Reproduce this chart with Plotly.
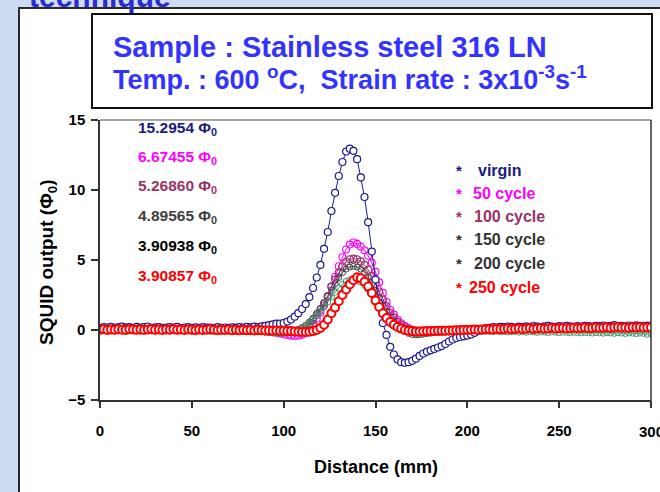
import plotly.graph_objects as go

# Scan positions along the sample (mm), one reading every 2 mm
distance_mm = list(range(0, 302, 2))

# SQUID output (flux quanta) for each fatigue state
virgin = [
    0.15, 0.2, 0.18, 0.22, 0.16, 0.2, 0.24, 0.17, 0.2, 0.15,
    0.22, 0.18, 0.2, 0.25, 0.16, 0.19, 0.21, 0.15, 0.18, 0.2,
    0.17, 0.22, 0.14, 0.18, 0.2, 0.16, 0.19, 0.15, 0.21, 0.17,
    0.18, 0.14, 0.2, 0.16, 0.18, 0.15, 0.19, 0.17, 0.2, 0.18,
    0.22, 0.19, 0.24, 0.2, 0.26,
    0.3, 0.35, 0.4, 0.45, 0.45, 0.5, 0.6, 0.75, 0.95, 1.2,
    1.5, 1.85, 2.35, 3.0, 3.75, 4.65, 5.8, 7.0, 8.5, 9.8,
    11.0, 12.0, 12.75, 12.95, 12.8, 12.2, 10.9, 9.5, 7.7, 5.6,
    3.6, 1.9, 0.5, -0.35, -1.2, -1.75, -2.1, -2.3, -2.3454, -2.3,
    -2.2, -2.05, -1.85, -1.68, -1.55, -1.45, -1.35, -1.25, -1.15, -1.0,
    -0.82, -0.68, -0.57, -0.5, -0.45, -0.4, -0.33, -0.2, -0.05, 0.05,
    0.12,
    0.15, 0.2, 0.18, 0.22, 0.2, 0.25, 0.22, 0.18, 0.24, 0.2,
    0.26, 0.22, 0.28, 0.24, 0.2, 0.26, 0.3, 0.24, 0.22, 0.27,
    0.25, 0.3, 0.26, 0.23, 0.28, 0.25, 0.3, 0.27, 0.24, 0.3,
    0.28, 0.32, 0.26, 0.3, 0.35, 0.28, 0.3, 0.26, 0.32, 0.29,
    0.33, 0.3, 0.27, 0.31, 0.3,
]

cycle_50 = [
    0.05, 0.08, 0.03, 0.06, 0.1, 0.04, 0.07, 0.02, 0.06, 0.05,
    0.09, 0.03, 0.06, 0.04, 0.08, 0.02, 0.05, 0.07, 0.03, 0.06,
    0.04, 0.02, 0.06, 0.03, 0.05, 0.01, 0.04, 0.06, 0.02, 0.04,
    0.0, 0.03, 0.05, 0.01, 0.03, 0.0, 0.02, -0.02, 0.01, -0.03,
    0.0, -0.04, -0.02, -0.06, -0.05,
    -0.08, -0.12, -0.15, -0.2, -0.25, -0.3, -0.35, -0.4, -0.42455, -0.4,
    -0.33, -0.2, 0.05, 0.35, 0.8, 1.25, 1.75, 2.4, 3.1, 3.8,
    4.55, 5.2, 5.75, 6.1, 6.25, 6.15, 5.95, 5.7, 5.3, 4.8,
    4.15, 3.4, 2.65, 2.0, 1.45, 1.1, 0.75, 0.48, 0.28, 0.12,
    0.0, -0.08, -0.12, -0.15, -0.15, -0.12, -0.1, -0.08, -0.05, -0.04,
    -0.02, 0.0, 0.02, 0.03, 0.04, 0.05, 0.06, 0.05, 0.07, 0.06,
    0.08,
    0.1, 0.08, 0.12, 0.1, 0.14, 0.11, 0.13, 0.1, 0.15, 0.12,
    0.14, 0.11, 0.16, 0.13, 0.15, 0.12, 0.17, 0.14, 0.16, 0.13,
    0.18, 0.15, 0.14, 0.17, 0.2, 0.16, 0.18, 0.15, 0.19, 0.17,
    0.2, 0.16, 0.18, 0.21, 0.17, 0.19, 0.16, 0.2, 0.18, 0.22,
    0.19, 0.17, 0.2, 0.18, 0.2,
]

cycle_100 = [
    0.04, 0.07, 0.02, 0.05, 0.08, 0.03, 0.06, 0.01, 0.05, 0.04,
    0.07, 0.02, 0.05, 0.03, 0.07, 0.01, 0.04, 0.06, 0.02, 0.05,
    0.03, 0.01, 0.05, 0.02, 0.04, 0.0, 0.03, 0.05, 0.01, 0.03,
    -0.01, 0.02, 0.04, 0.0, 0.02, -0.01, 0.01, -0.02, 0.0, -0.03,
    -0.01, -0.04, -0.03, -0.05, -0.06,
    -0.08, -0.1, -0.12, -0.14, -0.15, -0.16, -0.1686, -0.15, -0.12, -0.05,
    0.05, 0.2, 0.42, 0.7, 1.05, 1.45, 1.9, 2.4, 3.1, 3.6,
    4.1, 4.55, 4.88, 5.05, 5.1, 5.05, 4.9, 4.65, 4.3, 3.85,
    3.3, 2.75, 2.2, 1.7, 1.25, 0.9, 0.6, 0.38, 0.2, 0.08,
    0.0, -0.06, -0.1, -0.12, -0.12, -0.1, -0.08, -0.06, -0.04, -0.03,
    -0.01, 0.0, 0.01, 0.02, 0.03, 0.03, 0.04, 0.05, 0.04, 0.06,
    0.07,
    0.08, 0.06, 0.1, 0.08, 0.12, 0.09, 0.11, 0.08, 0.13, 0.1,
    0.12, 0.09, 0.14, 0.11, 0.13, 0.1, 0.15, 0.12, 0.14, 0.11,
    0.16, 0.13, 0.12, 0.15, 0.18, 0.14, 0.16, 0.13, 0.17, 0.15,
    0.18, 0.14, 0.16, 0.19, 0.15, 0.17, 0.14, 0.18, 0.16, 0.2,
    0.17, 0.15, 0.18, 0.16, 0.18,
]

cycle_150 = [
    0.02, -0.03, 0.04, 0.0, -0.05, 0.03, -0.02, 0.05, -0.04, 0.01,
    0.03, -0.06, 0.02, -0.01, 0.04, -0.03, 0.01, -0.05, 0.03, 0.0,
    -0.04, 0.02, -0.02, -0.07, 0.01, -0.03, 0.02, -0.05, 0.0, -0.02,
    -0.06, 0.01, -0.03, -0.08, -0.01, -0.04, -0.07, -0.02, -0.09, -0.05,
    -0.1, -0.06, -0.12, -0.08, -0.11,
    -0.14, -0.16, -0.2, -0.18, -0.22, -0.2, -0.18, -0.12, -0.05, 0.05,
    0.18, 0.35, 0.58, 0.85, 1.2, 1.55, 1.95, 2.4, 2.85, 3.3,
    3.75, 4.1, 4.35, 4.5, 4.55, 4.5, 4.35, 4.1, 3.75, 3.3,
    2.8, 2.3, 1.8, 1.35, 0.95, 0.6, 0.3, 0.05, -0.12, -0.24,
    -0.32, -0.34565, -0.34, -0.3, -0.26, -0.22, -0.18, -0.15, -0.12, -0.1,
    -0.08, -0.06, -0.05, -0.03, -0.02, -0.01, 0.0, 0.01, 0.0, 0.02,
    0.03,
    0.02, 0.05, 0.03, 0.06, 0.04, 0.02, 0.07, 0.04, 0.05, 0.03,
    0.08, 0.05, 0.06, 0.04, 0.09, 0.06, 0.05, 0.08, 0.06, 0.1,
    0.07, 0.05, 0.09, 0.07, 0.11, 0.08, 0.06, 0.1, 0.08, 0.12,
    0.09, 0.07, 0.1, 0.08, 0.11, 0.09, 0.12, 0.1, 0.08, 0.11,
    0.09, 0.12, 0.1, 0.11, 0.1,
]

cycle_200 = [
    -0.03, 0.0, -0.05, -0.01, -0.04, 0.01, -0.03, -0.06, 0.0, -0.04,
    -0.02, -0.07, -0.01, -0.05, -0.02, -0.06, 0.0, -0.04, -0.03, -0.07,
    -0.02, -0.05, -0.01, -0.06, -0.03, -0.08, -0.04, -0.02, -0.07, -0.03,
    -0.09, -0.05, -0.02, -0.08, -0.04, -0.1, -0.06, -0.11, -0.07, -0.12,
    -0.09, -0.13, -0.1, -0.14, -0.12,
    -0.15, -0.17, -0.2, -0.22, -0.24, -0.22, -0.2, -0.15, -0.08, 0.02,
    0.15, 0.32, 0.52, 0.75, 1.02, 1.32, 1.65, 2.0, 2.35, 2.7,
    3.0, 3.27, 3.47, 3.58, 3.6, 3.55, 3.42, 3.2, 2.9, 2.55,
    2.15, 1.75, 1.35, 1.0, 0.7, 0.45, 0.25, 0.08, -0.05, -0.14,
    -0.2, -0.24, -0.26, -0.25, -0.23, -0.21, -0.19, -0.18, -0.17, -0.16,
    -0.15, -0.14, -0.14, -0.13, -0.12, -0.12, -0.11, -0.12, -0.1, -0.11,
    -0.1,
    -0.1, -0.12, -0.09, -0.13, -0.11, -0.14, -0.12, -0.1, -0.15, -0.13,
    -0.16, -0.12, -0.14, -0.17, -0.13, -0.15, -0.18, -0.14, -0.16, -0.19,
    -0.15, -0.17, -0.2, -0.16, -0.18, -0.21, -0.17, -0.19, -0.22, -0.18,
    -0.2, -0.23, -0.19, -0.21, -0.24, -0.2, -0.22, -0.25, -0.21, -0.23,
    -0.26, -0.22, -0.24, -0.30938, -0.25,
]

cycle_250 = [
    0.02, 0.05, 0.0, 0.04, 0.01, 0.06, 0.02, 0.0, 0.05, 0.03,
    0.01, 0.04, 0.0, 0.03, 0.06, 0.01, 0.03, 0.0, 0.04, 0.02,
    0.05, 0.01, 0.03, 0.0, 0.04, 0.02, -0.01, 0.03, 0.0, 0.02,
    0.05, 0.01, -0.01, 0.02, 0.0, 0.03, -0.02, 0.01, -0.01, 0.02,
    -0.02, 0.0, -0.03, 0.01, -0.02,
    -0.04, -0.03, -0.05, -0.04, -0.06, -0.05, -0.08, -0.07, -0.1, -0.12,
    -0.14, -0.14857, -0.13, -0.08, 0.0, 0.15, 0.38, 0.75, 1.2, 1.6,
    2.05, 2.5, 2.9, 3.25, 3.55, 3.76, 3.7, 3.45, 3.1, 2.65,
    2.1, 1.65, 1.2, 0.85, 0.58, 0.38, 0.22, 0.1, 0.0, -0.05,
    -0.08, -0.1, -0.1, -0.09, -0.08, -0.08, -0.07, -0.06, -0.06, -0.05,
    -0.04, -0.03, -0.02, -0.02, 0.0, 0.0, 0.02, 0.03, 0.02, 0.04,
    0.05,
    0.06, 0.04, 0.08, 0.05, 0.07, 0.1, 0.06, 0.08, 0.11, 0.07,
    0.09, 0.12, 0.08, 0.1, 0.13, 0.09, 0.11, 0.14, 0.1, 0.12,
    0.15, 0.11, 0.13, 0.16, 0.12, 0.14, 0.17, 0.13, 0.15, 0.18,
    0.14, 0.16, 0.19, 0.15, 0.17, 0.2, 0.16, 0.18, 0.15, 0.19,
    0.17, 0.2, 0.16, 0.18, 0.17,
]

# Peak-to-peak amplitudes quoted beside the curves
peak_to_peak = ["15.2954", "6.67455", "5.26860", "4.89565", "3.90938", "3.90857"]
peak_colors = ["#1a1a80", "#ff00ff", "#993366", "#404040", "#000000", "#ff0000"]

legend_names = ["virgin", "50 cycle", "100 cycle", "150 cycle", "200 cycle", "250 cycle"]
legend_colors = ["#1a1a80", "#ff00ff", "#993366", "#333333", "#333333", "#ff0000"]

x_ticks = [0, 50, 100, 150, 200, 250, 300]
y_ticks = [-5, 0, 5, 10, 15]

for s in (virgin, cycle_50, cycle_100, cycle_150, cycle_200, cycle_250):
    assert len(s) == len(distance_mm)

FONT = "Liberation Sans, Arial, sans-serif"
W, H = 660, 492
L, R, T, B = 100, 651, 120, 400  # plot box in pixels


def px_x(p):
    return (p - L) / (R - L)


def px_y(p):
    return (B - p) / (B - T)


fig = go.Figure()

# Drawing order: cycled states first, virgin above them, 250 cycle on top
series = [
    (cycle_50, "#ff00ff", "circle-open", 7, 1.1, None),
    (cycle_100, "#993366", "circle-open", 7, 1.1, None),
    (cycle_150, "#404040", "circle-open", 6, 1.0, None),
    (cycle_200, "#3c9c70", "circle-open", 6, 1.0, None),
    (virgin, "#1a1a90", "circle", 7, 1.2, "white"),
    (cycle_250, "#ff0000", "circle", 8, 2.0, "white"),
]
for ys, col, sym, size, lw, fill in series:
    marker = dict(symbol=sym, size=size, line=dict(color=col, width=lw))
    marker["color"] = fill if fill else col
    fig.add_trace(go.Scatter(
        x=distance_mm, y=ys, mode="lines+markers",
        line=dict(color=col, width=1),
        marker=marker, showlegend=False, hoverinfo="skip",
    ))

shapes = [
    # white slide panel with dark left/top edge
    dict(type="rect", xref="paper", yref="paper",
         x0=px_x(19), x1=px_x(700), y0=px_y(540), y1=px_y(8),
         fillcolor="white", line=dict(color="#2a2a2a", width=2), layer="below"),
    # headline box
    dict(type="rect", xref="paper", yref="paper",
         x0=px_x(92), x1=px_x(652), y0=px_y(108), y1=px_y(14),
         fillcolor="white", line=dict(color="#111111", width=2)),
    # top and right frame of the plot box
    dict(type="line", xref="paper", yref="paper",
         x0=0, x1=1, y0=1, y1=1, line=dict(color="#888888", width=1.5)),
    dict(type="line", xref="paper", yref="paper",
         x0=1, x1=1, y0=px_y(407), y1=1, line=dict(color="#333333", width=1.5)),
]

tick_font = dict(family=FONT, size=15, color="black", weight="bold")

annotations = [
    dict(text="<b>technique</b>", x=px_x(27), y=px_y(15), xanchor="left", yanchor="bottom",
         font=dict(family=FONT, size=30, color="#2b2bd0")),
    dict(text="<b>Sample : Stainless steel 316 LN</b>", x=px_x(111), y=px_y(47),
         xanchor="left", yanchor="middle", font=dict(family=FONT, size=29, color="#3333ff")),
    dict(text="<b>Temp. : 600 <sup>o</sup>C,\u00a0 Strain rate : 3x10<sup>-3</sup>s<sup>-1</sup></b>",
         x=px_x(111), y=px_y(78), xanchor="left", yanchor="middle",
         font=dict(family=FONT, size=27, color="#3333ff")),
    dict(text="<b>Distance (mm)</b>", x=0.5, y=px_y(467), xanchor="center", yanchor="middle",
         font=dict(family=FONT, size=18, color="black")),
    dict(text="<b>SQUID output (Φ<sub>0</sub>)</b>", x=px_x(48), y=px_y(262), textangle=-90,
         xanchor="center", yanchor="middle", font=dict(family=FONT, size=19, color="black")),
    # last x tick label, running off the right edge of the page
    dict(text=f"<b>{x_ticks[-1]}</b>", x=1, y=px_y(431), xanchor="center", yanchor="middle",
         font=dict(family=FONT, size=15, color="black")),
]

label_y = [128, 157, 186, 216, 246, 276]
for val, col, yy in zip(peak_to_peak, peak_colors, label_y):
    annotations.append(dict(
        text=f"<b>{val} Φ<sub>0</sub></b>", x=px_x(136), y=px_y(yy),
        xanchor="left", yanchor="middle", font=dict(family=FONT, size=15.5, color=col)))

legend_y = [170, 193, 216, 239, 263, 287]
text_x = [476, 471, 472, 472, 472, 467]
for name, col, yy, tx in zip(legend_names, legend_colors, legend_y, text_x):
    annotations.append(dict(
        text="<b>*</b>", x=px_x(454), y=px_y(yy), xanchor="left", yanchor="middle",
        font=dict(family=FONT, size=15, color=col)))
    annotations.append(dict(
        text=f"<b>{name}</b>", x=px_x(tx), y=px_y(yy), xanchor="left", yanchor="middle",
        font=dict(family=FONT, size=16, color=col)))

for a in annotations:
    a.update(xref="paper", yref="paper", showarrow=False)

fig.update_layout(
    width=W, height=H,
    margin=dict(l=L, r=W - R, t=T, b=H - B, autoexpand=False),
    paper_bgcolor="#cddcf2", plot_bgcolor="white",
    shapes=shapes, annotations=annotations,
    font=dict(family=FONT),
)

fig.update_xaxes(
    range=[0, 300], tickvals=x_ticks,
    ticktext=[str(v) for v in x_ticks[:-1]] + [""],
    ticks="outside", ticklen=6, tickwidth=1.5,
    tickcolor="#333333", showline=True, linecolor="#333333", linewidth=2,
    showgrid=False, zeroline=False, ticklabelstandoff=10, automargin=False,
    tickfont=tick_font,
)
fig.update_yaxes(
    range=[-5, 15], tickvals=y_ticks, ticks="outside", ticklen=7, tickwidth=1.5,
    tickcolor="#333333", showline=True, linecolor="#333333", linewidth=1.5,
    showgrid=False, zeroline=False, ticklabelstandoff=3, automargin=False,
    tickfont=tick_font,
)

fig.write_html("out.html")
